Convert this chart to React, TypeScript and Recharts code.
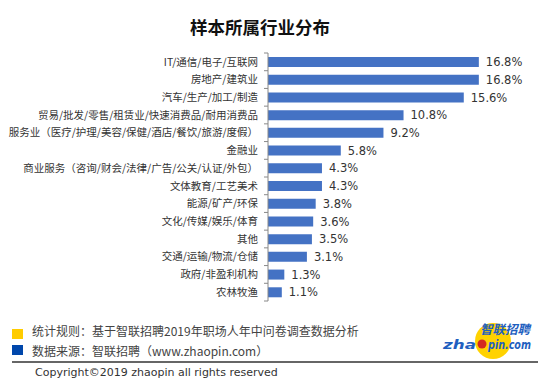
import { BarChart, Bar, XAxis, YAxis, LabelList } from 'recharts';

const industries = [
  'IT/通信/电子/互联网',
  '房地产/建筑业',
  '汽车/生产/加工/制造',
  '贸易/批发/零售/租赁业/快速消费品/耐用消费品',
  '服务业（医疗/护理/美容/保健/酒店/餐饮/旅游/度假）',
  '金融业',
  '商业服务（咨询/财会/法律/广告/公关/认证/外包）',
  '文体教育/工艺美术',
  '能源/矿产/环保',
  '文化/传媒/娱乐/体育',
  '其他',
  '交通/运输/物流/仓储',
  '政府/非盈利机构',
  '农林牧渔',
];

const shares = [16.8, 16.8, 15.6, 10.8, 9.2, 5.8, 4.3, 4.3, 3.8, 3.6, 3.5, 3.1, 1.3, 1.1];

const chartData = industries.map((name, i) => ({ name, share: shares[i] }));

const CHART_W = 550;
const CHART_H = 310;
const MARGIN = { top: 53, right: 31, bottom: 9, left: 0 };
const BAND = (CHART_H - MARGIN.top - MARGIN.bottom) / chartData.length;

const cjk = '"Noto Sans CJK SC", "Noto Sans", sans-serif';

function IndustryTick(props: any) {
  const { x, y, payload, index } = props;
  const axisX = x + 10;
  return (
    <g>
      <line x1={axisX - 4} x2={axisX} y1={y - BAND / 2} y2={y - BAND / 2} stroke="#888" />
      {index === chartData.length - 1 && (
        <line x1={axisX - 4} x2={axisX} y1={y + BAND / 2} y2={y + BAND / 2} stroke="#888" />
      )}
      <text x={x} y={y} dy="0.35em" textAnchor="end" fontSize={10.5} fill="#333" fontFamily={cjk}>
        {payload.value}
      </text>
    </g>
  );
}

export default function App() {
  return (
    <div
      style={{
        position: 'absolute',
        left: 0,
        top: 0,
        width: 550,
        height: 392,
        background: '#fff',
        overflow: 'hidden',
      }}
    >
      <div
        style={{
          position: 'absolute',
          top: 14,
          left: 160,
          width: 200,
          textAlign: 'center',
          fontFamily: cjk,
          fontWeight: 700,
          fontSize: 17.5,
          color: '#111',
          lineHeight: '26px',
        }}
      >
        样本所属行业分布
      </div>

      <div style={{ position: 'absolute', left: 0, top: 0 }}>
        <BarChart width={CHART_W} height={CHART_H} data={chartData} layout="vertical" margin={MARGIN}>
          <XAxis type="number" hide domain={[0, 20]} />
          <YAxis
            type="category"
            dataKey="name"
            width={268}
            axisLine={{ stroke: '#888' }}
            tickLine={false}
            tickSize={4}
            tickMargin={6}
            interval={0}
            tick={<IndustryTick />}
          />
          <Bar dataKey="share" fill="#4472C4" barSize={10} isAnimationActive={false}>
            <LabelList
              dataKey="share"
              position="right"
              offset={7}
              formatter={(v: any) => `${Number(v).toFixed(1)}%`}
              style={{ fontSize: 11.5, fill: '#333', fontFamily: '"DejaVu Sans", sans-serif' }}
            />
          </Bar>
        </BarChart>
      </div>

      {/* footer */}
      <div style={{ position: 'absolute', left: 12, top: 329, width: 11, height: 10, background: '#FFCC00' }} />
      <div style={{ position: 'absolute', left: 12, top: 345, width: 11, height: 10, background: '#0047AB' }} />
      <div
        style={{
          position: 'absolute',
          left: 32,
          top: 323,
          fontFamily: cjk,
          fontSize: 12,
          color: '#444',
          lineHeight: '16px',
          whiteSpace: 'nowrap',
        }}
      >
        统计规则：基于智联招聘2019年职场人年中问卷调查数据分析
      </div>
      <div
        style={{
          position: 'absolute',
          left: 32,
          top: 343,
          fontFamily: cjk,
          fontSize: 12,
          color: '#444',
          lineHeight: '16px',
          whiteSpace: 'nowrap',
        }}
      >
        数据来源：智联招聘（www.zhaopin.com）
      </div>
      <div style={{ position: 'absolute', left: 12, top: 361, width: 526, height: 2, background: '#666' }} />
      <div
        style={{
          position: 'absolute',
          left: 35,
          top: 366,
          fontFamily: '"DejaVu Sans", sans-serif',
          fontSize: 11,
          color: '#333',
          lineHeight: '14px',
          whiteSpace: 'nowrap',
        }}
      >
        Copyright©2019 zhaopin all rights reserved
      </div>

      {/* logo */}
      <svg width={550} height={392} style={{ position: 'absolute', left: 0, top: 0, pointerEvents: 'none' }}>
        <circle cx={493} cy={341} r={18} fill="#FFD200" />
        <text
          x={480}
          y={334}
          fontFamily={cjk}
          fontWeight={700}
          fontStyle="italic"
          fontSize={12.5}
          fill="#1F5FBF"
          textLength={50}
          lengthAdjust="spacingAndGlyphs"
        >
          智联招聘
        </text>
        <text
          x={443}
          y={349}
          fontFamily='"DejaVu Sans", sans-serif'
          fontWeight={700}
          fontStyle="italic"
          fontSize={13}
          fill="#1F5FBF"
          textLength={33}
          lengthAdjust="spacingAndGlyphs"
        >
          zha
        </text>
        <circle cx={482} cy={344} r={4.5} fill="#D42A20" />
        <text
          x={488}
          y={349}
          fontFamily='"DejaVu Sans", sans-serif'
          fontWeight={700}
          fontStyle="italic"
          fontSize={13}
          fill="#1F5FBF"
          textLength={43}
          lengthAdjust="spacingAndGlyphs"
        >
          pin.com
        </text>
      </svg>
    </div>
  );
}
